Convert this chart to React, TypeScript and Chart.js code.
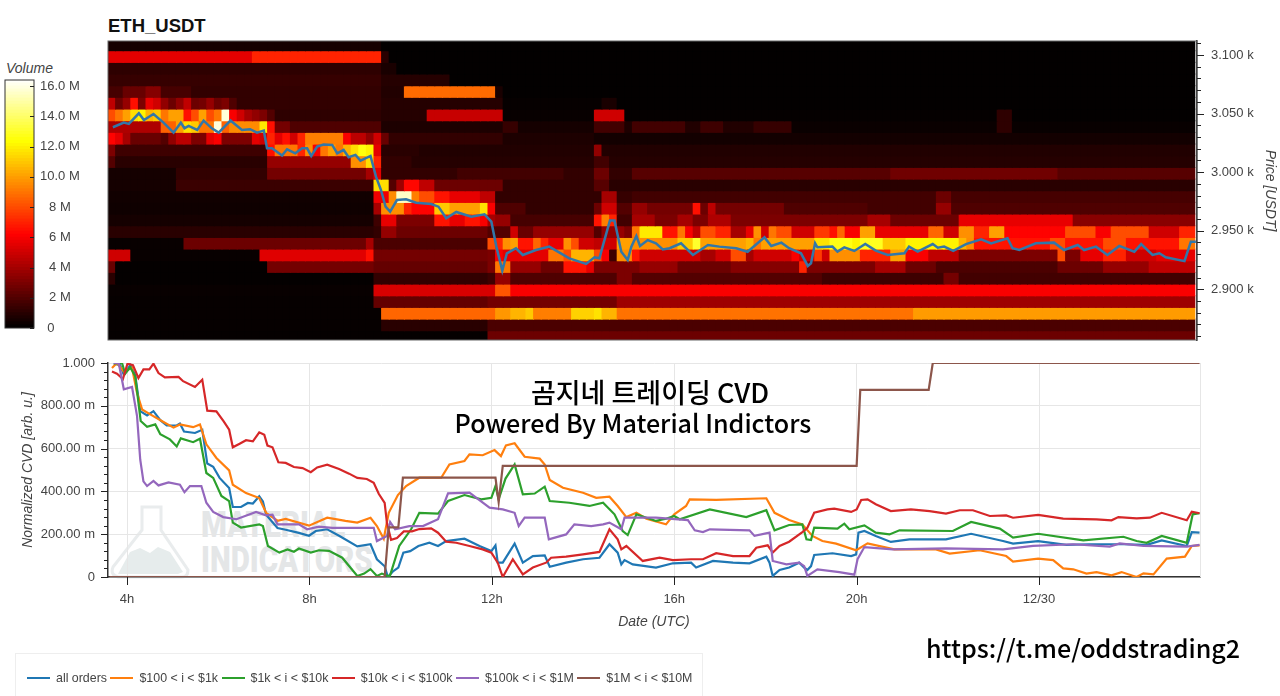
import { useEffect, useRef } from 'react'
import { Chart, registerables } from 'chart.js'

Chart.register(...registerables)

const FONT = '"Liberation Sans", Arial, sans-serif'
const TICK_COLOR = '#444'

// x axis (hours since 00h UTC, 12/30 is hour 24)
const tickHours = [4, 8, 12, 16, 20, 24]
const tickHourLabels = ['4h', '8h', '12h', '16h', '20h', '12/30']
const firstHour = 3.583
const cellHours = 1 / 6

// heatmap price buckets, top to bottom
const priceBuckets = [
  3108.6, 3098.6, 3088.7, 3078.7, 3068.8, 3058.8, 3048.8, 3038.9, 3028.9, 3019, 3009, 2999, 2989.1,
  2979.1, 2969.2, 2959.2, 2949.2, 2939.3, 2929.3, 2919.4, 2909.4, 2899.4, 2889.5, 2879.5, 2869.6, 2859.6,
]
const bucketHalf = 4.98
const priceTicks = [
  2860, 2870, 2880, 2890, 2900, 2910, 2920, 2930, 2940, 2950, 2960, 2970, 2980, 2990, 3000, 3010, 3020,
  3030, 3040, 3050, 3060, 3070, 3080, 3090, 3100, 3110,
]

// volume in millions per bucket, as runs of [until column, volume]
const volumeRuns: number[][][] = [
  [[36, 0.5], [143, 0.08]],
  [[19, 5.5], [36, 7], [37, 1], [143, 0.08]],
  [[36, 1.1], [38, 0.6], [143, 0.08]],
  [[36, 1.3], [45, 0.9], [143, 0.08]],
  [[2, 1.7], [5, 2.5], [7, 3.2], [11, 1.7], [36, 1.2], [39, 0.8], [51, 8.7], [52, 0.6], [143, 0.08]],
  [[1, 4.6], [2, 2.6], [3, 3.6], [4, 6.5], [5, 3], [6, 5.6], [7, 5], [8, 3.5], [9, 2.6], [10, 3.5], [11, 4.6], [12, 2.6], [13, 2.8], [14, 3.6], [15, 2.6], [16, 3], [17, 1.9], [36, 1.2], [52, 0.9], [65, 0.15], [67, 0.6], [143, 0.08]],
  [[1, 8], [2, 9], [3, 10], [4, 11.5], [5, 12], [6, 10.5], [7, 11], [8, 9], [10, 10], [11, 6.5], [12, 8], [13, 10], [14, 8], [15, 9], [16, 15.8], [17, 6], [18, 5], [19, 4], [20, 3.5], [21, 3], [22, 2], [36, 1.1], [42, 0.9], [52, 4.8], [64, 0.2], [68, 5], [117, 0.12], [119, 1.1], [143, 0.08]],
  [[7, 4.2], [9, 8.5], [10, 10], [11, 11.5], [12, 11], [14, 9], [15, 15.8], [16, 8.5], [20, 9.5], [21, 11.8], [22, 6.5], [24, 2.8], [36, 1.9], [52, 0.7], [54, 1.3], [64, 0.5], [68, 1.6], [69, 0.7], [76, 1.6], [78, 0.8], [81, 1.5], [85, 0.8], [90, 1.3], [117, 0.25], [119, 1.1], [143, 0.2]],
  [[1, 6.2], [2, 5.5], [3, 4], [7, 2.5], [8, 2], [9, 3.5], [11, 4.5], [13, 3], [14, 5.5], [15, 6], [19, 3], [20, 5.5], [21, 5], [22, 7], [23, 5.5], [24, 6.5], [25, 5], [26, 7], [31, 9.2], [32, 6], [34, 4.5], [35, 3.5], [36, 5], [37, 2.5], [52, 1.2], [64, 0.7], [143, 0.45]],
  [[1, 3], [21, 1.5], [22, 6.5], [25, 9], [26, 7], [27, 9.5], [28, 6], [29, 9], [30, 10], [31, 9], [32, 10.5], [33, 11.5], [34, 12.5], [35, 12], [36, 5.5], [41, 1], [64, 0.8], [65, 3.5], [143, 0.8]],
  [[1, 2], [21, 1], [32, 3.6], [34, 9.6], [35, 11.5], [36, 7], [40, 1.2], [64, 0.9], [66, 1.6], [143, 0.9]],
  [[9, 0.5], [21, 1.2], [34, 2.8], [35, 4], [36, 5.5], [46, 1.2], [60, 1.6], [64, 1.2], [66, 2.6], [69, 1.2], [103, 2.1], [125, 2.7], [143, 2.1]],
  [[9, 0.5], [35, 1.4], [37, 11.5], [38, 2], [39, 3.8], [41, 6.3], [43, 4.6], [52, 2.6], [64, 1.2], [66, 2.1], [143, 1]],
  [[35, 0.4], [37, 5.8], [38, 9.5], [40, 15.5], [41, 9.2], [43, 8], [45, 6.6], [49, 5.6], [51, 4.6], [65, 1.2], [67, 4], [69, 1.3], [109, 1.6], [111, 2.6], [143, 1.7]],
  [[35, 0.35], [36, 4], [39, 9.6], [40, 7], [43, 6.2], [45, 11], [49, 10], [50, 11.6], [51, 6], [55, 1.9], [64, 1.2], [65, 2.6], [67, 5], [69, 2], [71, 3.6], [77, 2.8], [78, 6.5], [79, 2.6], [80, 4.5], [89, 2.8], [100, 1.9], [109, 1.6], [111, 3.6], [143, 1.9]],
  [[35, 0.5], [36, 1.5], [38, 5.6], [43, 3], [45, 6.6], [47, 5.6], [49, 6.6], [50, 6], [51, 4], [53, 3.6], [64, 1.7], [65, 6.6], [66, 9.2], [67, 7], [69, 1.6], [72, 4], [75, 3], [77, 4], [79, 3], [82, 4.2], [100, 3], [103, 4], [112, 2.6], [127, 5.6], [143, 3.3]],
  [[35, 1], [36, 1.2], [38, 3.6], [50, 2.6], [53, 2], [54, 5], [56, 2.5], [64, 3.6], [65, 2], [68, 3.6], [69, 3], [70, 9], [73, 11.8], [75, 6.6], [76, 9], [77, 6], [78, 4.6], [80, 8], [82, 7], [84, 4], [85, 5.6], [86, 9.6], [87, 5], [88, 9], [90, 8], [93, 5], [95, 7.5], [96, 6.5], [97, 8.6], [99, 6], [101, 10], [108, 5.6], [110, 8.6], [112, 5], [114, 9.6], [116, 7], [118, 10], [126, 6.2], [130, 8], [132, 6], [137, 8], [141, 5], [143, 7]],
  [[10, 0.2], [34, 2.6], [35, 4], [50, 1.8], [51, 8], [52, 7], [53, 9.6], [54, 10], [56, 6.6], [57, 8.6], [58, 7], [60, 5.6], [61, 9.6], [62, 8], [64, 5], [65, 4.6], [67, 5], [69, 10], [75, 9.6], [77, 11], [78, 13], [84, 10], [85, 10.5], [86, 9], [93, 10], [95, 11.6], [98, 12.6], [99, 12], [102, 12.8], [105, 11], [112, 12], [113, 10.5], [114, 9.5], [124, 6.6], [126, 8], [131, 6.6], [134, 8], [141, 6.6], [143, 9]],
  [[3, 5], [20, 0.2], [34, 5.4], [35, 6.5], [50, 2.8], [51, 3], [52, 6], [58, 5.5], [60, 9], [61, 8], [64, 10.5], [65, 8], [66, 6], [67, 1.5], [69, 9.6], [70, 6.6], [78, 5], [80, 4], [82, 5], [84, 8], [85, 4], [90, 5], [91, 6], [93, 5], [94, 7.6], [95, 5], [99, 9.6], [103, 7], [105, 10], [108, 6], [112, 4.6], [125, 3], [126, 8], [128, 3], [131, 5.6], [134, 7], [138, 5], [143, 5.6]],
  [[1, 2.5], [21, 0.1], [35, 2.8], [50, 2.4], [51, 3], [53, 9], [57, 3.6], [60, 2.6], [63, 6.6], [64, 5.6], [70, 3], [75, 3.6], [82, 2.6], [91, 3.2], [92, 7], [101, 3], [105, 4], [109, 2.6], [125, 1.8], [131, 2.6], [137, 3.6], [143, 4.6]],
  [[1, 1], [35, 0.1], [50, 1.2], [51, 1.5], [53, 3.6], [67, 1.9], [69, 3], [94, 2], [110, 1.5], [112, 2.8], [143, 1.6]],
  [[35, 0.2], [51, 5.2], [53, 8.2], [143, 6]],
  [[35, 0.15], [50, 2.4], [67, 2.8], [143, 3.8]],
  [[36, 0.15], [51, 8.6], [53, 9.8], [55, 10.5], [56, 11], [61, 9.2], [64, 11.2], [65, 11.6], [67, 10.5], [106, 8.9], [143, 9.9]],
  [[36, 0.15], [50, 1], [143, 1.8]],
  [[50, 0.12], [143, 2.6]],
]

const priceLine = [
  [3.69, 3038.3], [3.93, 3042.2], [4.04, 3041.1], [4.26, 3050.2], [4.37, 3044.5], [4.58, 3049.6], [4.8, 3042.2], [5.02, 3033.7],
  [5.18, 3042.2], [5.26, 3037.4], [5.35, 3039.4], [5.54, 3036], [5.68, 3044], [5.86, 3037.4], [6.01, 3033.7], [6.27, 3044],
  [6.52, 3036], [6.7, 3036.6], [6.85, 3033.7], [7, 3035.4], [7.07, 3020.3], [7.18, 3020.3], [7.4, 3014.1], [7.51, 3019.5],
  [7.69, 3016], [7.84, 3020.3], [7.95, 3020.3], [8.04, 3013.8], [8.17, 3021.8], [8.31, 3023.5], [8.5, 3023.2], [8.61, 3016],
  [8.75, 3018.9], [8.86, 3012.7], [9.01, 3014.7], [9.12, 3009.8], [9.34, 3013.8], [9.46, 2996.1], [9.57, 2984.7], [9.67, 2970.5],
  [9.77, 2966.3], [9.92, 2976.2], [10.12, 2976.8], [10.34, 2973.9], [10.67, 2972.8], [10.83, 2970.5], [11, 2960.6], [11.22, 2966],
  [11.55, 2962], [11.84, 2964], [11.99, 2957.7], [12.1, 2936.4], [12.23, 2915.9], [12.33, 2930.7], [12.53, 2935], [12.68, 2929.3],
  [12.97, 2933.5], [13.26, 2936.4], [13.7, 2926.4], [14.07, 2921.6], [14.25, 2927.3], [14.36, 2926.4], [14.43, 2936.4], [14.59, 2958.6],
  [14.69, 2958.6], [14.84, 2932], [14.98, 2925], [15.06, 2936.4], [15.17, 2945.5], [15.25, 2937], [15.42, 2942], [15.6, 2939.2],
  [15.75, 2934], [15.9, 2935], [16.15, 2939.2], [16.41, 2929.3], [16.74, 2937.8], [16.99, 2936.4], [17.36, 2935], [17.61, 2932],
  [17.98, 2944.3], [18.13, 2937], [18.35, 2939.8], [18.52, 2935], [18.78, 2930.7], [18.93, 2919.9], [19, 2922.2], [19.09, 2939.2],
  [19.14, 2935.8], [19.47, 2936.4], [19.58, 2932.1], [19.73, 2935.8], [19.95, 2932.7], [20.19, 2938.6], [20.42, 2933], [20.68, 2929.3],
  [21.05, 2930.7], [21.15, 2936.4], [21.34, 2932.1], [21.67, 2938.6], [21.78, 2935.5], [21.92, 2936.4], [22.12, 2932.7], [22.4, 2938.6],
  [22.73, 2942.6], [22.95, 2939.2], [23.31, 2943.5], [23.42, 2935], [23.57, 2933.5], [23.93, 2939.2], [24.33, 2939.8], [24.55, 2933.5],
  [24.85, 2937.8], [24.99, 2933.5], [25.25, 2936.4], [25.5, 2929.3], [25.76, 2937], [26.09, 2932.1], [26.24, 2938.6], [26.49, 2929.3],
  [26.64, 2930.7], [26.78, 2927.3], [27.19, 2924], [27.33, 2940.6], [27.44, 2940.6],
]

// colour bar
const colorbarTicks = [0, 2, 4, 6, 8, 10, 12, 14, 16]
const colorbarLabels = ['0     ', '2 M', '4 M', '6 M', '8 M', '10.0 M', '12.0 M', '14.0 M', '16.0 M']
const volumeMax = 16.4

// CVD panel
const cvdTicks = [
  0, 0.04, 0.08, 0.12, 0.16, 0.2, 0.24, 0.28, 0.32, 0.36, 0.4, 0.44, 0.48, 0.52, 0.56, 0.6, 0.64, 0.68, 0.72, 0.76, 0.8,
  0.84, 0.88, 0.92, 0.96, 1,
]
const cvdMajor = [0, 0.2, 0.4, 0.6, 0.8, 1]
const cvdMajorLabels = ['0', '200.00 m', '400.00 m', '600.00 m', '800.00 m', '1.000']

const allOrders = [
  [3.71, 0.997], [3.85, 0.99], [3.93, 0.945], [4.07, 0.99], [4.18, 0.945], [4.29, 0.775], [4.44, 0.755], [4.58, 0.775], [4.73, 0.733],
  [4.87, 0.708], [5.09, 0.708], [5.16, 0.717], [5.25, 0.68], [5.49, 0.673], [5.65, 0.688], [5.76, 0.53], [5.89, 0.515], [6.03, 0.463],
  [6.24, 0.416], [6.32, 0.327], [6.5, 0.327], [6.65, 0.346], [6.76, 0.343], [6.9, 0.377], [6.98, 0.353], [7.05, 0.291], [7.3, 0.229],
  [7.48, 0.221], [7.77, 0.206], [7.99, 0.193], [8.14, 0.215], [8.39, 0.223], [8.65, 0.193], [9.05, 0.143], [9.34, 0.153], [9.48, 0.083],
  [9.65, 0.05], [9.72, 0], [9.84, 0.028], [9.95, 0.044], [10.06, 0.114], [10.21, 0.121], [10.39, 0.145], [10.63, 0.16], [10.82, 0.145],
  [11, 0.168], [11.4, 0.179], [11.73, 0.145], [11.99, 0.121], [12.08, 0.148], [12.13, 0.067], [12.24, 0.067], [12.5, 0.156], [12.68, 0.067],
  [12.9, 0.098], [13.16, 0.101], [13.27, 0.048], [13.63, 0.067], [14, 0.083], [14.36, 0.09], [14.58, 0.153], [14.76, 0.114], [14.84, 0.059],
  [14.91, 0.079], [15.09, 0.059], [15.6, 0.044], [15.97, 0.064], [16.37, 0.067], [16.48, 0.044], [16.85, 0.075], [17.29, 0.067], [17.65, 0.064],
  [18.02, 0.095], [18.09, 0.067], [18.16, 0.005], [18.31, 0.033], [18.52, 0.044], [18.74, 0.067], [18.85, 0.044], [18.92, 0.033], [19, 0.051],
  [19.07, 0.103], [19.47, 0.111], [19.88, 0.098], [19.99, 0.106], [20.04, 0.207], [20.17, 0.215], [20.42, 0.192], [20.75, 0.164], [21.16, 0.176],
  [21.96, 0.176], [22.51, 0.202], [23.21, 0.168], [23.43, 0.156], [23.98, 0.168], [24.6, 0.15], [25.11, 0.153], [25.85, 0.153], [26.36, 0.15],
  [26.69, 0.171], [27.24, 0.145], [27.35, 0.21], [27.52, 0.207],
]
const orders100To1k = [
  [3.67, 0.977], [3.78, 1], [3.93, 0.96], [4.11, 0.978], [4.22, 0.86], [4.33, 0.783], [4.51, 0.76], [4.8, 0.724], [5.02, 0.698], [5.16, 0.713],
  [5.45, 0.7], [5.6, 0.713], [5.74, 0.62], [5.96, 0.556], [6.24, 0.498], [6.32, 0.431], [6.61, 0.392], [6.9, 0.369], [7.05, 0.3], [7.3, 0.263],
  [7.48, 0.271], [7.99, 0.24], [8.39, 0.277], [8.79, 0.262], [9.05, 0.254], [9.34, 0.277], [9.48, 0.238], [9.63, 0.179], [9.74, 0.3], [9.94, 0.383],
  [10.12, 0.425], [10.41, 0.464], [10.89, 0.464], [11.07, 0.526], [11.4, 0.542], [11.51, 0.573], [11.8, 0.569], [12.06, 0.593], [12.2, 0.565],
  [12.31, 0.615], [12.5, 0.625], [12.72, 0.562], [13.05, 0.553], [13.16, 0.526], [13.27, 0.453], [13.56, 0.417], [14, 0.394], [14.29, 0.37],
  [14.58, 0.375], [14.76, 0.332], [14.95, 0.28], [15.17, 0.3], [15.39, 0.272], [15.82, 0.246], [16, 0.293], [16.26, 0.332], [16.34, 0.363],
  [16.92, 0.36], [18.02, 0.368], [18.2, 0.3], [18.52, 0.266], [18.81, 0.246], [19.03, 0.192], [19.25, 0.168], [19.55, 0.156], [19.99, 0.125],
  [20.24, 0.157], [20.83, 0.129], [21.74, 0.129], [22.04, 0.109], [22.7, 0.125], [23.28, 0.098], [23.43, 0.072], [23.98, 0.086], [24.31, 0.079],
  [24.53, 0.04], [24.75, 0.036], [25.04, 0.016], [25.26, 0.023], [25.59, 0.008], [25.81, 0.023], [26.14, 0], [26.29, 0.017], [26.51, 0.012],
  [26.8, 0.086], [27.2, 0.095], [27.35, 0.145], [27.52, 0.148],
]
const orders1kTo10k = [
  [3.71, 0.998], [3.89, 1], [3.96, 0.95], [4.07, 0.98], [4.18, 0.938], [4.3, 0.729], [4.44, 0.702], [4.62, 0.713], [4.73, 0.667], [4.94, 0.643],
  [5.09, 0.61], [5.18, 0.648], [5.45, 0.63], [5.6, 0.646], [5.74, 0.486], [5.89, 0.463], [6.07, 0.379], [6.24, 0.355], [6.32, 0.254], [6.5, 0.231],
  [6.9, 0.246], [6.98, 0.238], [7.09, 0.145], [7.34, 0.114], [7.52, 0.129], [7.66, 0.118], [7.77, 0.133], [8.03, 0.114], [8.21, 0.125], [8.43, 0.122],
  [8.72, 0.09], [9.05, 0.005], [9.2, 0.016], [9.34, 0.037], [9.48, 0.005], [9.59, 0.016], [9.76, 0.002], [9.97, 0.145], [10.23, 0.223], [10.41, 0.3],
  [10.82, 0.296], [11.04, 0.355], [11.4, 0.383], [11.77, 0.363], [11.99, 0.37], [12.08, 0.425], [12.15, 0.363], [12.3, 0.46], [12.5, 0.526], [12.68, 0.386],
  [12.94, 0.39], [13.16, 0.422], [13.27, 0.355], [13.7, 0.347], [14.14, 0.332], [14.44, 0.347], [14.69, 0.293], [14.87, 0.215], [14.98, 0.196],
  [15.17, 0.293], [15.6, 0.262], [15.82, 0.272], [16, 0.285], [16.12, 0.27], [16.78, 0.316], [17.58, 0.28], [18.02, 0.312], [18.2, 0.218], [18.52, 0.243],
  [18.81, 0.246], [18.9, 0.176], [19, 0.173], [19.07, 0.231], [19.58, 0.226], [19.73, 0.249], [19.84, 0.223], [20.17, 0.241], [20.42, 0.207], [20.72, 0.199],
  [20.94, 0.218], [22.11, 0.215], [22.51, 0.257], [23.14, 0.226], [23.43, 0.184], [23.98, 0.202], [24.97, 0.171], [25.85, 0.188], [26.14, 0.168],
  [26.36, 0.16], [26.69, 0.192], [27.24, 0.16], [27.37, 0.293], [27.52, 0.298],
]
const orders10kTo100k = [
  [3.67, 0.96], [3.78, 0.95], [3.91, 0.925], [4.01, 0.997], [4.13, 0.99], [4.25, 0.93], [4.36, 0.97], [4.49, 0.97], [4.58, 0.997], [4.69, 0.953],
  [4.83, 0.933], [5.13, 0.935], [5.23, 0.915], [5.49, 0.888], [5.65, 0.922], [5.76, 0.777], [5.96, 0.774], [6.12, 0.727], [6.24, 0.688], [6.32, 0.606],
  [6.47, 0.623], [6.61, 0.639], [6.76, 0.634], [6.9, 0.676], [7.01, 0.665], [7.08, 0.614], [7.19, 0.606], [7.32, 0.536], [7.48, 0.533], [7.66, 0.514],
  [7.85, 0.509], [8.03, 0.49], [8.17, 0.512], [8.39, 0.525], [8.65, 0.505], [8.87, 0.483], [9.05, 0.463], [9.26, 0.458], [9.41, 0.44], [9.52, 0.389],
  [9.65, 0.346], [9.7, 0.252], [9.79, 0.174], [9.92, 0.182], [10.07, 0.213], [10.25, 0.213], [10.41, 0.224], [10.67, 0.227], [10.82, 0.207], [11, 0.165],
  [11.22, 0.16], [11.51, 0.145], [11.8, 0.129], [11.99, 0.114], [12.13, 0.067], [12.24, 0], [12.46, 0.083], [12.68, 0.012], [12.9, 0.044], [13.19, 0.067],
  [13.3, 0.09], [13.63, 0.095], [14, 0.106], [14.36, 0.117], [14.58, 0.223], [14.76, 0.176], [14.84, 0.129], [14.95, 0.145], [15.31, 0.075], [15.68, 0.09],
  [15.97, 0.079], [16.37, 0.083], [16.63, 0.083], [16.92, 0.111], [17.29, 0.098], [17.65, 0.098], [17.8, 0.137], [18.05, 0.148], [18.16, 0.114], [18.31, 0.145],
  [18.52, 0.165], [18.81, 0.21], [18.92, 0.23], [19.07, 0.3], [19.36, 0.316], [19.51, 0.319], [19.88, 0.304], [20, 0.316], [20.1, 0.36], [20.24, 0.363],
  [20.42, 0.34], [20.75, 0.308], [21.19, 0.316], [21.6, 0.308], [21.96, 0.296], [22.26, 0.312], [22.55, 0.312], [22.92, 0.285], [23.28, 0.288], [23.43, 0.277],
  [23.98, 0.29], [24.53, 0.273], [25.26, 0.269], [25.59, 0.265], [25.74, 0.28], [26.14, 0.274], [26.43, 0.277], [26.69, 0.3], [27.24, 0.265], [27.35, 0.305],
  [27.52, 0.298],
]
const orders100kTo1M = [
  [3.71, 1], [3.82, 0.998], [3.93, 0.877], [4.11, 0.888], [4.22, 0.752], [4.29, 0.548], [4.36, 0.447], [4.44, 0.425], [4.58, 0.449], [4.69, 0.428],
  [4.91, 0.442], [5.16, 0.431], [5.26, 0.396], [5.38, 0.425], [5.63, 0.425], [5.74, 0.347], [5.89, 0.304], [6.11, 0.28], [6.4, 0.27], [6.83, 0.304],
  [7.05, 0.288], [7.19, 0.291], [7.3, 0.246], [7.77, 0.246], [7.95, 0.223], [8.21, 0.235], [8.5, 0.23], [9.41, 0.23], [9.48, 0.168], [9.7, 0.192],
  [9.77, 0.257], [9.88, 0.223], [10.19, 0.238], [10.49, 0.238], [10.82, 0.27], [11.04, 0.391], [11.51, 0.394], [11.95, 0.324], [12.24, 0.316], [12.5, 0.3],
  [12.59, 0.238], [12.72, 0.277], [13.16, 0.277], [13.25, 0.176], [13.63, 0.199], [13.81, 0.246], [14.18, 0.238], [14.44, 0.246], [14.58, 0.254], [14.84, 0.223],
  [14.91, 0.277], [15.6, 0.277], [16.3, 0.266], [16.45, 0.218], [16.63, 0.21], [16.78, 0.223], [17.65, 0.218], [17.76, 0.192], [18.09, 0.207], [18.16, 0.075],
  [18.46, 0.059], [18.74, 0.067], [18.85, 0.051], [18.92, 0.005], [19.14, 0.036], [19.62, 0.023], [19.95, 0.011], [20.02, 0.083], [20.17, 0.14], [20.79, 0.129],
  [21.96, 0.134], [23.21, 0.129], [23.87, 0.145], [24.75, 0.153], [25.55, 0.142], [25.77, 0.157], [26.29, 0.145], [27.24, 0.142], [27.52, 0.15],
]
const orders1MTo10M = [
  [3.62, 0], [9.65, 0], [9.74, 0.232], [9.95, 0.232], [10.05, 0.464], [12.08, 0.464], [12.15, 0.35], [12.24, 0.519], [20, 0.519], [20.08, 0.874],
  [21.58, 0.874], [21.67, 1], [27.52, 1],
]

const seriesLabels = ['all orders', '$100 < i < $1k', '$1k < i < $10k', '$10k < i < $100k', '$100k < i < $1M', '$1M < i < $10M']
const seriesColors = ['#1f77b4', '#ff7f0e', '#2ca02c', '#d62728', '#9467bd', '#8c564b']
const seriesData = [allOrders, orders100To1k, orders1kTo10k, orders10kTo100k, orders100kTo1M, orders1MTo10M]

// black - red - yellow - white ramp
const hotColor = (volume: number) => {
  const t = Math.min(1, volume / volumeMax)
  const r = Math.min(255, Math.round((t / 0.375) * 255))
  const g = t < 0.375 ? 0 : Math.min(255, Math.round(((t - 0.375) / 0.375) * 255))
  const b = t < 0.75 ? 0 : Math.round(((t - 0.75) / 0.25) * 255)
  return `rgb(${r},${g},${b})`
}

const expandRuns = (runs: number[][]) => {
  const cells: number[] = []
  runs.forEach(([until, volume]) => {
    while (cells.length < until) cells.push(volume)
  })
  return cells
}

// axis tick marks with separate major and minor lengths, plus an optional frame
const axisMarks = (
  axisId: string,
  isMajor: (value: number) => boolean,
  majorLen: number,
  minorLen: number,
  frame?: string,
) => ({
  id: 'axisMarks',
  afterDraw(chart: any) {
    const { ctx, chartArea } = chart
    const scale = chart.scales[axisId]
    ctx.save()
    if (frame) {
      ctx.strokeStyle = frame
      ctx.lineWidth = 1
      ctx.strokeRect(chartArea.left, chartArea.top, chartArea.width, chartArea.height)
    }
    ctx.strokeStyle = '#222'
    ctx.lineWidth = 1
    scale.ticks.forEach((tick: any) => {
      const p = Math.round(scale.getPixelForValue(tick.value)) + 0.5
      const len = isMajor(tick.value) ? majorLen : minorLen
      ctx.beginPath()
      if (scale.isHorizontal()) {
        ctx.moveTo(p, scale.top)
        ctx.lineTo(p, scale.top + len)
      } else if (scale.position === 'right') {
        ctx.moveTo(scale.left, p)
        ctx.lineTo(scale.left + len, p)
      } else {
        ctx.moveTo(scale.right, p)
        ctx.lineTo(scale.right - len, p)
      }
      ctx.stroke()
    })
    ctx.restore()
  },
})

const isCvdMajor = (v: number) => cvdMajor.includes(v)

export default function App() {
  const heatRef = useRef<HTMLCanvasElement>(null)
  const barRef = useRef<HTMLCanvasElement>(null)
  const cvdRef = useRef<HTMLCanvasElement>(null)

  useEffect(() => {
    if (!heatRef.current || !barRef.current || !cvdRef.current) return

    const heatDatasets: any[] = priceBuckets.map((price, row) => {
      const cells = expandRuns(volumeRuns[row])
      return {
        type: 'bar',
        order: 1,
        data: cells.map((_, c) => ({
          x: firstHour + (c + 0.5) * cellHours,
          y: [price - bucketHalf, price + bucketHalf],
        })),
        backgroundColor: cells.map(hotColor),
        borderWidth: 0,
        borderSkipped: false,
        inflateAmount: 0.5,
        grouped: false,
        barPercentage: 1,
        categoryPercentage: 1,
      }
    })

    const heatChart = new Chart(heatRef.current, {
      type: 'bar',
      data: {
        datasets: [
          ...heatDatasets,
          {
            type: 'line',
            order: 0,
            data: priceLine,
            borderColor: '#3277a8',
            borderWidth: 2.5,
            pointRadius: 0,
            tension: 0,
          },
        ],
      },
      options: {
        responsive: false,
        animation: false,
        events: [],
        layout: { padding: { left: 108, top: 41, bottom: 5, right: 0 } },
        plugins: { legend: { display: false }, tooltip: { enabled: false } },
        scales: {
          x: {
            type: 'linear',
            display: false,
            offset: false,
            min: firstHour,
            max: 27.465,
            grid: { display: false, offset: false },
          },
          y: {
            type: 'linear',
            position: 'right',
            min: 2856.7,
            max: 3111.9,
            afterFit: (s: any) => {
              s.width = 83
              s.paddingTop = 0
              s.paddingBottom = 0
            },
            afterBuildTicks: (s: any) => {
              s.ticks = priceTicks.map((value) => ({ value }))
            },
            grid: { display: false, drawTicks: false },
            border: { display: true, color: '#222', width: 1.5 },
            ticks: {
              autoSkip: false,
              padding: 14,
              color: TICK_COLOR,
              font: { family: FONT, size: 13 },
              callback: (v: any) => (v % 50 === 0 ? `${(v / 1000).toFixed(3)} k` : ''),
            },
            title: {
              display: true,
              text: 'Price [USDT]',
              color: TICK_COLOR,
              padding: { top: 2, bottom: 0 },
              font: { family: FONT, size: 14, style: 'italic' },
            },
          },
        },
      },
      plugins: [axisMarks('y', (v) => v % 50 === 0, 7, 4, '#666')],
    } as any)

    // colour bar: one thin floating bar per volume step
    const rampSteps: number[] = []
    for (let v = 0; v < volumeMax; v += 0.2) rampSteps.push(v)
    const barChart = new Chart(barRef.current, {
      type: 'bar',
      data: {
        labels: ['Volume'],
        datasets: rampSteps.map((v) => ({
          data: [[v, v + 0.2]],
          backgroundColor: hotColor(v + 0.1),
          borderWidth: 0,
          borderSkipped: false,
          inflateAmount: 0.5,
          grouped: false,
          barPercentage: 1,
          categoryPercentage: 1,
        })),
      },
      options: {
        responsive: false,
        animation: false,
        events: [],
        layout: { padding: { left: 5, top: 80, bottom: 17, right: 0 } },
        plugins: { legend: { display: false }, tooltip: { enabled: false } },
        scales: {
          x: { display: false, grid: { display: false } },
          y: {
            position: 'right',
            min: 0,
            max: volumeMax,
            afterFit: (s: any) => {
              s.width = 66
              s.paddingTop = 0
              s.paddingBottom = 0
            },
            afterBuildTicks: (s: any) => {
              s.ticks = colorbarTicks.map((value) => ({ value }))
            },
            grid: { display: false, drawTicks: false },
            border: { display: false },
            ticks: {
              autoSkip: false,
              padding: 6,
              crossAlign: 'center',
              color: TICK_COLOR,
              font: { family: FONT, size: 13 },
              callback: (v: any) => colorbarLabels[colorbarTicks.indexOf(v)],
            },
          },
        },
      },
      plugins: [axisMarks('y', () => true, -4, -4, '#333')],
    } as any)

    const cvdChart = new Chart(cvdRef.current, {
      type: 'line',
      data: {
        datasets: seriesData.map((data, i) => ({
          label: seriesLabels[i],
          data,
          borderColor: seriesColors[i],
          borderWidth: 2.2,
          pointRadius: 0,
          tension: 0,
          order: seriesData.length - i,
        })),
      },
      options: {
        responsive: false,
        animation: false,
        events: [],
        layout: { padding: { left: 0, top: 13, right: 80, bottom: 0 } },
        plugins: { legend: { display: false }, tooltip: { enabled: false } },
        scales: {
          x: {
            type: 'linear',
            min: firstHour,
            max: 27.53,
            afterFit: (s: any) => {
              s.height = 119
              s.paddingLeft = 0
              s.paddingRight = 0
            },
            afterBuildTicks: (s: any) => {
              s.ticks = tickHours.map((value) => ({ value }))
            },
            grid: { color: '#e6e6e6', drawTicks: false },
            border: { display: true, color: '#333', width: 1.5 },
            ticks: {
              autoSkip: false,
              maxRotation: 0,
              padding: 15,
              color: TICK_COLOR,
              font: { family: FONT, size: 13 },
              callback: (v: any) => tickHourLabels[tickHours.indexOf(v)],
            },
            title: {
              display: true,
              text: 'Date (UTC)',
              color: TICK_COLOR,
              padding: { top: 0, bottom: 65 },
              font: { family: FONT, size: 14, style: 'italic' },
            },
          },
          y: {
            type: 'linear',
            min: 0,
            max: 1,
            afterFit: (s: any) => {
              s.width = 108
              s.paddingTop = 0
              s.paddingBottom = 0
            },
            afterBuildTicks: (s: any) => {
              s.ticks = cvdTicks.map((value) => ({ value }))
            },
            grid: {
              drawTicks: false,
              color: (ctx: any) => (ctx.tick && isCvdMajor(ctx.tick.value) ? '#e6e6e6' : 'transparent'),
            },
            border: { display: true, color: '#333', width: 1.5 },
            ticks: {
              autoSkip: false,
              padding: 13,
              color: TICK_COLOR,
              font: { family: FONT, size: 13 },
              callback: (v: any) => (isCvdMajor(v) ? cvdMajorLabels[cvdMajor.indexOf(v)] : ''),
            },
            title: {
              display: true,
              text: 'Normalized CVD [arb. u.]',
              color: TICK_COLOR,
              padding: { top: 20, bottom: 0 },
              font: { family: FONT, size: 14, style: 'italic' },
            },
          },
        },
      },
      plugins: [
        axisMarks('y', isCvdMajor, 7, 4),
        {
          id: 'hourMarks',
          afterDraw(chart: any) {
            const { ctx, chartArea, scales } = chart
            ctx.save()
            ctx.strokeStyle = '#e6e6e6'
            ctx.beginPath()
            ctx.moveTo(chartArea.right + 0.5, chartArea.top)
            ctx.lineTo(chartArea.right + 0.5, chartArea.bottom)
            ctx.stroke()
            ctx.strokeStyle = '#222'
            tickHours.forEach((h) => {
              const p = Math.round(scales.x.getPixelForValue(h)) + 0.5
              ctx.beginPath()
              ctx.moveTo(p, scales.x.top)
              ctx.lineTo(p, scales.x.top + 8)
              ctx.stroke()
            })
            ctx.restore()
          },
        },
      ],
    } as any)

    return () => {
      heatChart.destroy()
      barChart.destroy()
      cvdChart.destroy()
    }
  }, [])

  return (
    <div style={{ position: 'absolute', left: 0, top: 0, width: 1280, height: 696, overflow: 'hidden', background: '#fff', fontFamily: FONT }}>
      <div style={{ position: 'absolute', left: 108, top: 15, fontSize: 18.5, fontWeight: 700, color: '#111' }}>ETH_USDT</div>
      <div style={{ position: 'absolute', left: 6, top: 60, fontSize: 14, fontStyle: 'italic', color: TICK_COLOR }}>Volume</div>

      {/* watermark sits under the transparent CVD canvas */}
      <svg width="200" height="90" viewBox="108 495 200 90" style={{ position: 'absolute', left: 108, top: 495 }}>
        <path d="M142 507 L161 507 L161 530 L188 570 Q188 577 182 577 L118 577 Q110 575 113 567 L142 530 Z" fill="none" stroke="#e9eced" strokeWidth="3" />
        <path d="M118 574 L130 552 L140 548 L150 553 L158 547 L170 552 L183 572 L178 574 Z" fill="#e6ecec" />
      </svg>
      <div style={{ position: 'absolute', left: 201, top: 507, fontFamily: 'Roboto', fontWeight: 900, fontSize: 36, lineHeight: '36px', color: '#e4e6e7', transform: 'scaleX(0.82)', transformOrigin: 'left' }}>MATERIAL</div>
      <div style={{ position: 'absolute', left: 201, top: 542, fontFamily: 'Roboto', fontWeight: 900, fontSize: 36, lineHeight: '36px', color: '#e4e6e7', transform: 'scaleX(0.82)', transformOrigin: 'left' }}>INDICATORS</div>

      <canvas ref={heatRef} width={1280} height={345} style={{ position: 'absolute', left: 0, top: 0 }} />
      <canvas ref={barRef} width={100} height={345} style={{ position: 'absolute', left: 0, top: 0 }} />
      <canvas ref={cvdRef} width={1280} height={346} style={{ position: 'absolute', left: 0, top: 350 }} />

      <div style={{ position: 'absolute', left: 400, width: 500, top: 374, textAlign: 'center', fontFamily: '"Noto Sans CJK KR"', fontWeight: 500, fontSize: 27, lineHeight: '36px', color: '#000' }}>곰지네 트레이딩 CVD</div>
      <div style={{ position: 'absolute', left: 383, width: 500, top: 404, textAlign: 'center', fontFamily: '"Noto Sans CJK KR"', fontWeight: 500, fontSize: 25.1, lineHeight: '36px', color: '#000' }}>Powered By Material Indictors</div>
      <div style={{ position: 'absolute', left: 926, top: 627, fontFamily: '"Noto Sans CJK KR"', fontWeight: 500, fontSize: 25.1, lineHeight: '40px', color: '#000' }}>https://t.me/oddstrading2</div>

      <div style={{ position: 'absolute', left: 15, top: 653, width: 688, height: 60, border: '1px solid #eee', boxSizing: 'border-box', display: 'flex', alignItems: 'flex-start', paddingLeft: 11, paddingTop: 17, fontSize: 12.4, color: TICK_COLOR }}>
        {seriesLabels.map((label, i) => (
          <div key={label} style={{ display: 'flex', alignItems: 'center', marginRight: 3.5, height: 14 }}>
            <span style={{ display: 'inline-block', width: 23, height: 2, background: seriesColors[i], marginRight: 6 }} />
            <span style={{ whiteSpace: 'nowrap' }}>{label}</span>
          </div>
        ))}
      </div>
    </div>
  )
}
